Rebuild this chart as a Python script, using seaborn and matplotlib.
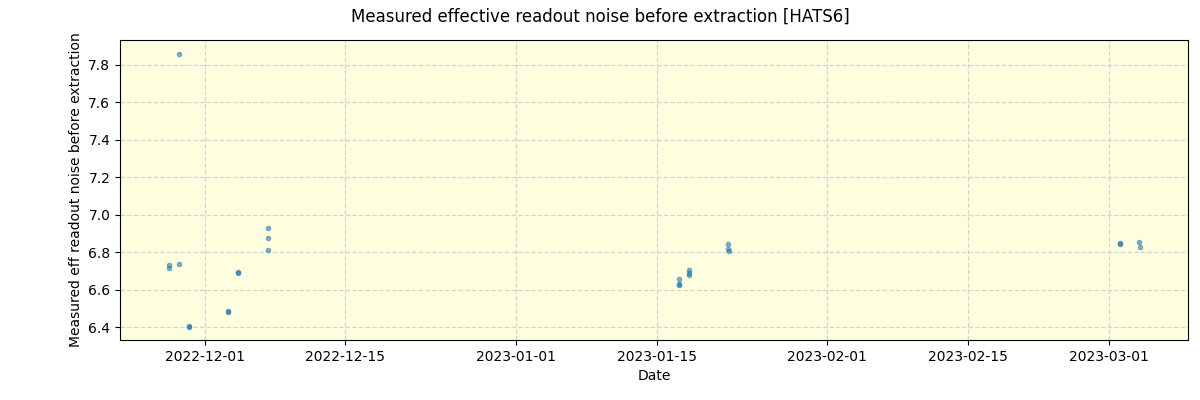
import pandas as pd
import numpy as np
import matplotlib
matplotlib.use('Agg')
import matplotlib.pyplot as plt
import matplotlib.dates as mdates
import seaborn as sns

dates = [
    '2022-11-27 10:00', '2022-11-27 10:30', '2022-11-28 10:00', '2022-11-28 10:30',
    '2022-11-29 10:00', '2022-11-29 10:30',
    '2022-12-03 07:00', '2022-12-03 07:30',
    '2022-12-04 07:00', '2022-12-04 07:30',
    '2022-12-07 06:00', '2022-12-07 06:30', '2022-12-07 07:00',
    '2023-01-17 05:00', '2023-01-17 05:30', '2023-01-17 06:00',
    '2023-01-18 05:00', '2023-01-18 05:30', '2023-01-18 06:00',
    '2023-01-22 03:00', '2023-01-22 03:30', '2023-01-22 04:00',
    '2023-03-02 03:00', '2023-03-02 03:30',
    '2023-03-04 02:00', '2023-03-04 02:30',
]
noise = [
    6.731, 6.715, 7.859, 6.736,
    6.405, 6.404,
    6.485, 6.480,
    6.694, 6.688,
    6.929, 6.875, 6.811,
    6.655, 6.628, 6.630,
    6.708, 6.690, 6.678,
    6.842, 6.815, 6.808,
    6.847, 6.842,
    6.852, 6.829,
]

df = pd.DataFrame({'date': pd.to_datetime(dates), 'noise': noise})

fig = plt.figure(figsize=(12, 4), dpi=100)
ax = fig.add_axes([0.1, 0.15, 0.89, 0.75])
ax.set_facecolor('lightyellow')
sns.scatterplot(data=df, x='date', y='noise', ax=ax, s=12, alpha=0.6,
                color='tab:blue', edgecolor='tab:blue', linewidth=0.5)
ax.grid(True, color='lightgray', linestyle='--', linewidth=0.9)
ax.set_axisbelow(True)
ax.set_xlim(pd.Timestamp('2022-11-22 13:00'), pd.Timestamp('2023-03-08 22:00'))
ax.set_ylim(6.332, 7.932)
ax.set_xticks(pd.to_datetime(['2022-12-01', '2022-12-15', '2023-01-01', '2023-01-15',
                              '2023-02-01', '2023-02-15', '2023-03-01']))
ax.xaxis.set_major_formatter(mdates.DateFormatter('%Y-%m-%d'))
ax.set_xlabel('Date')
ax.set_ylabel('Measured eff readout noise before extraction')
fig.suptitle('Measured effective readout noise before extraction [HATS6]', y=0.98)
fig.savefig('out.png')
plt.close()
